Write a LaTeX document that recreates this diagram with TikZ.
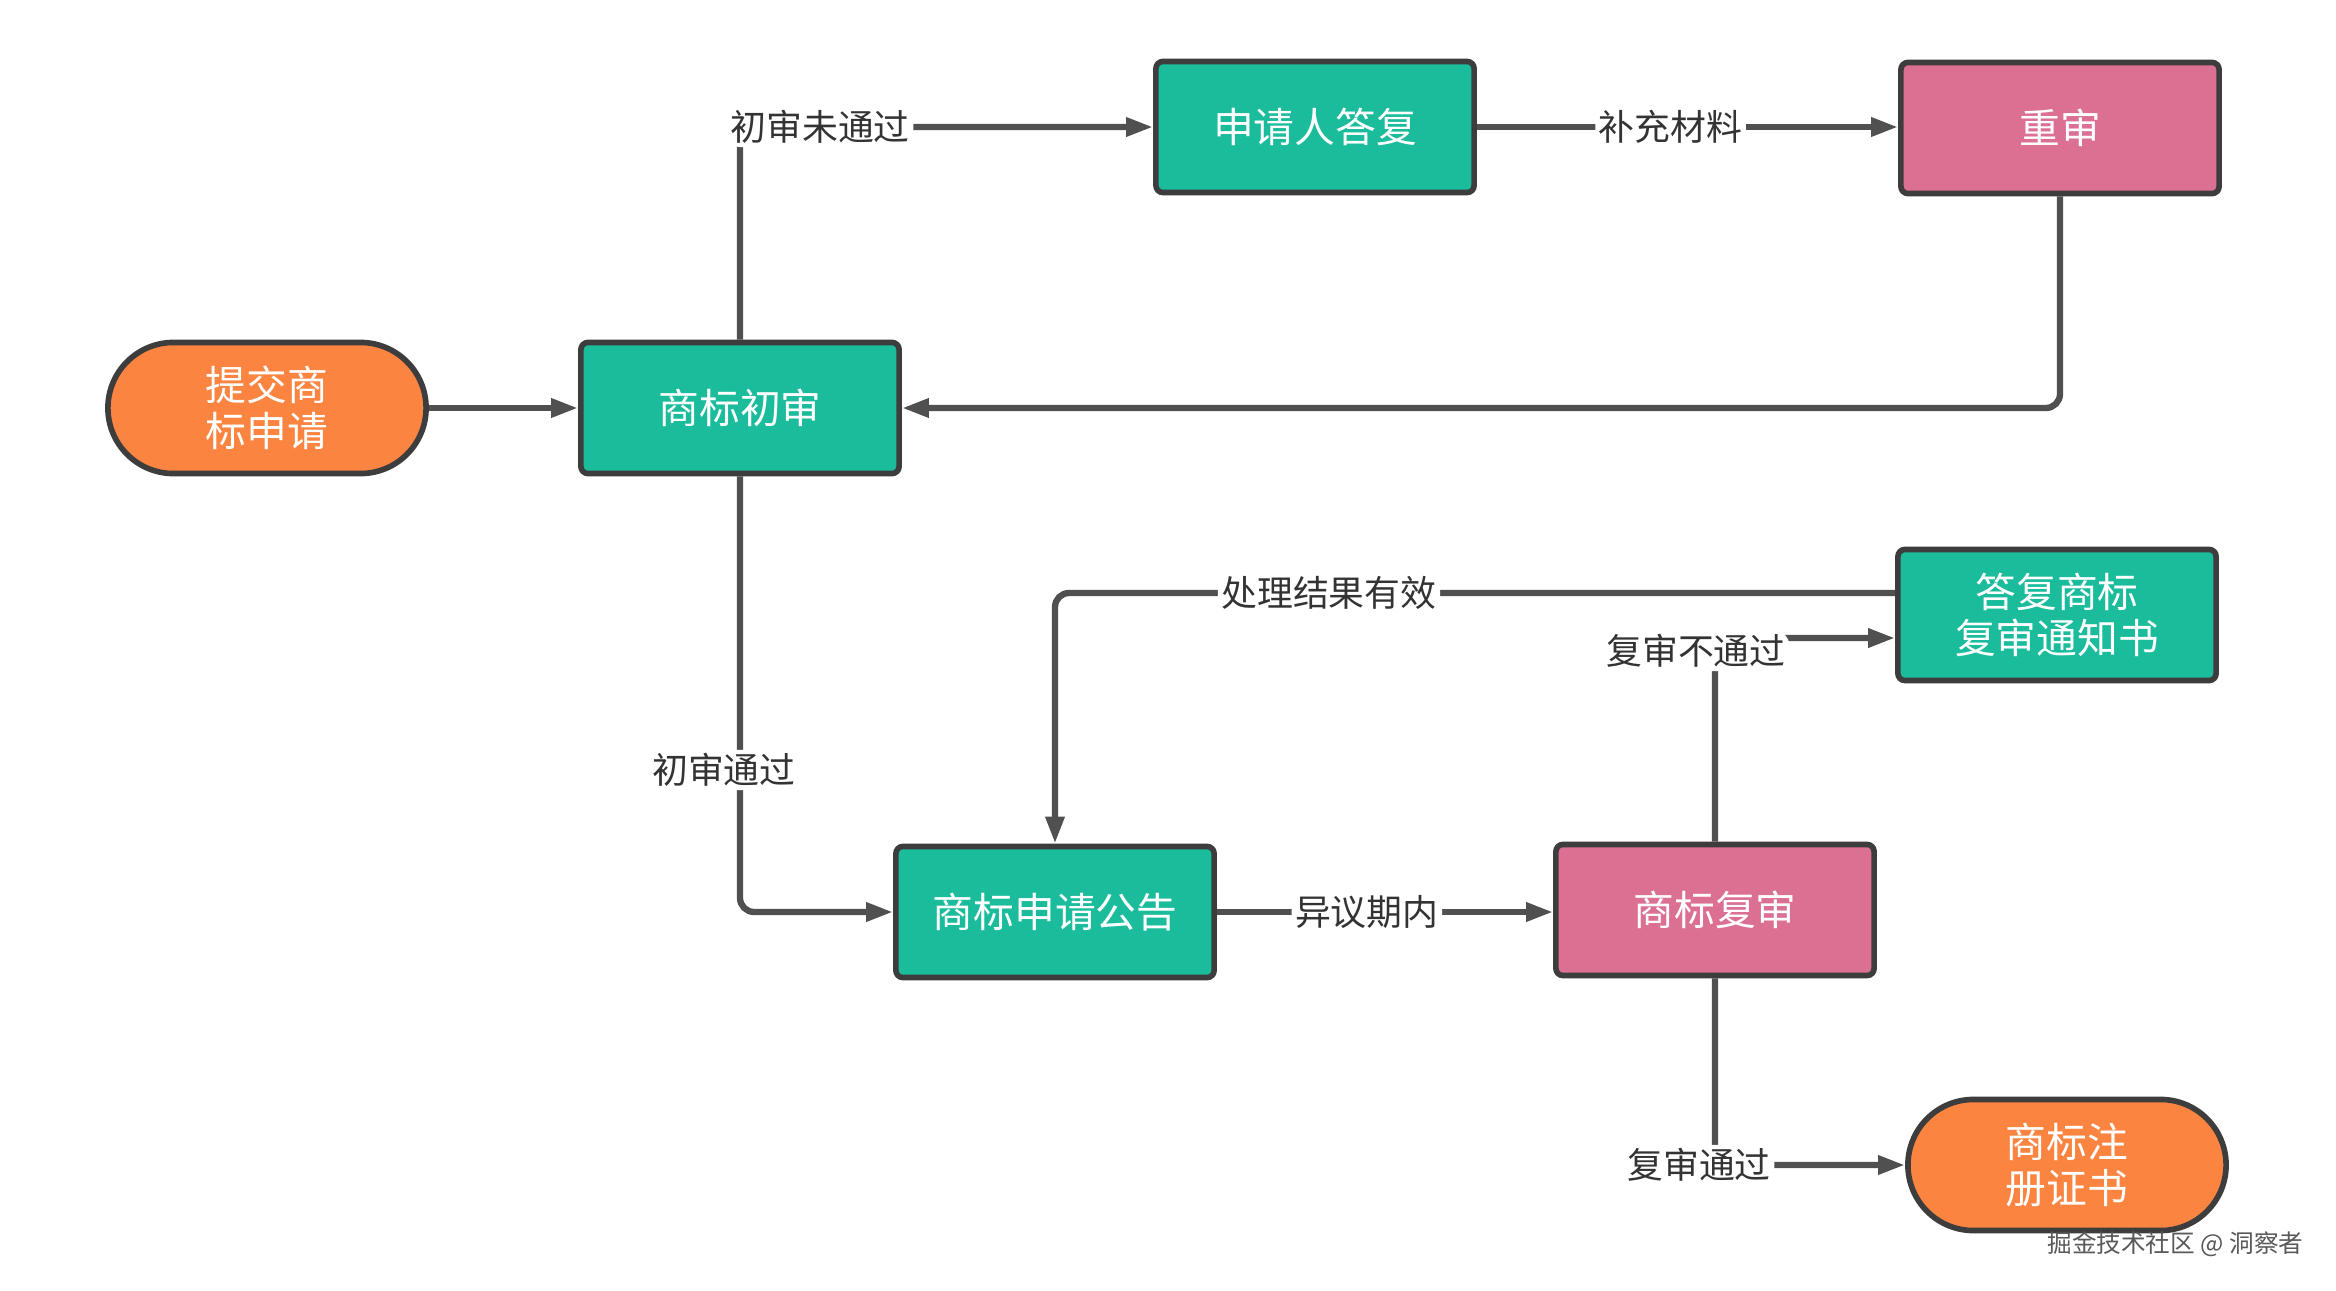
\documentclass[tikz,border=0pt]{standalone}
\usepackage{fontspec}
\setmainfont{Noto Sans CJK SC}
\usetikzlibrary{arrows.meta,calc}
\definecolor{tealfill}{HTML}{1ABC9C}
\definecolor{pinkfill}{HTML}{DB7093}
\definecolor{orangefill}{HTML}{FA8440}
\definecolor{edgecol}{HTML}{3D3D3D}
\definecolor{linecol}{HTML}{505050}
\definecolor{labelcol}{HTML}{333333}
\tikzset{
  boxbase/.style={draw=edgecol, line width=1.6pt, minimum width=3.18cm, minimum height=1.31cm,
    text=white, align=center, font=\fontsize{11.6}{13}\selectfont, inner sep=0pt},
  tealbox/.style={boxbase, fill=tealfill, rounded corners=2pt},
  pinkbox/.style={boxbase, fill=pinkfill, rounded corners=2pt},
  pillbox/.style={boxbase, fill=orangefill, rounded corners=0.655cm},
  conn/.style={draw=linecol, line width=1.8pt, rounded corners=4pt,
    -{Triangle[length=0.27cm,width=0.18cm]}},
  lbl/.style={fill=white, text=labelcol, inner sep=1pt, font=\fontsize{10.2}{12}\selectfont}
}
\begin{document}
\begin{tikzpicture}[x=0.01cm,y=-0.01cm]
\useasboundingbox[fill=white] (0,0) rectangle (2336,1291);

\node[pillbox] (submit) at (267,408) {提交商\\标申请};
\node[tealbox] (chushen) at (740,408) {商标初审};
\node[tealbox] (dafu) at (1315,127) {申请人答复};
\node[pinkbox] (chongshen) at (2060,128) {重审};
\node[tealbox] (notice) at (2057,615) {答复商标\\复审通知书};
\node[tealbox] (gonggao) at (1055,912) {商标申请公告};
\node[pinkbox] (fushen) at (1715,910) {商标复审};
\node[pillbox] (cert) at (2067,1165) {商标注\\册证书};

\coordinate (noticeA) at ([yshift=0.22cm]notice.west);
\coordinate (noticeB) at ([yshift=-0.23cm]notice.west);

\draw[conn] (submit.east) -- (chushen.west);
\draw[conn] (chushen.north) |- node[lbl, pos=0.597] (l1) {初审未通过} (dafu.west);
\draw[conn] (dafu.east) -- node[lbl, pos=0.46] (l2) {补充材料} (dafu.east -| chongshen.west);
\draw[conn] (chongshen.south) |- (chushen.east);
\draw[conn] (chushen.south) |- node[lbl, pos=0.337, xshift=-0.16cm] (l3) {初审通过} (gonggao.west);
\draw[conn] (gonggao.east) -- node[lbl, pos=0.446] (l4) {异议期内} (gonggao.east -| fushen.west);
\draw[conn] (noticeA) -| node[lbl, pos=0.337] (l5) {处理结果有效} (gonggao.north);
\draw[conn] (fushen.north) |- node[lbl, pos=0.5, xshift=-0.19cm, yshift=-0.13cm] (l6) {复审不通过} (noticeB);
\draw[conn] (fushen.south) |- node[lbl, pos=0.5, xshift=-0.16cm] (l7) {复审通过} (cert.west);

\node[text=black!65, font=\fontsize{7}{8}\selectfont, anchor=east, inner sep=0pt] (wm) at (2304,1244) {掘金技术社区 @ 洞察者};
\end{tikzpicture}
\end{document}
